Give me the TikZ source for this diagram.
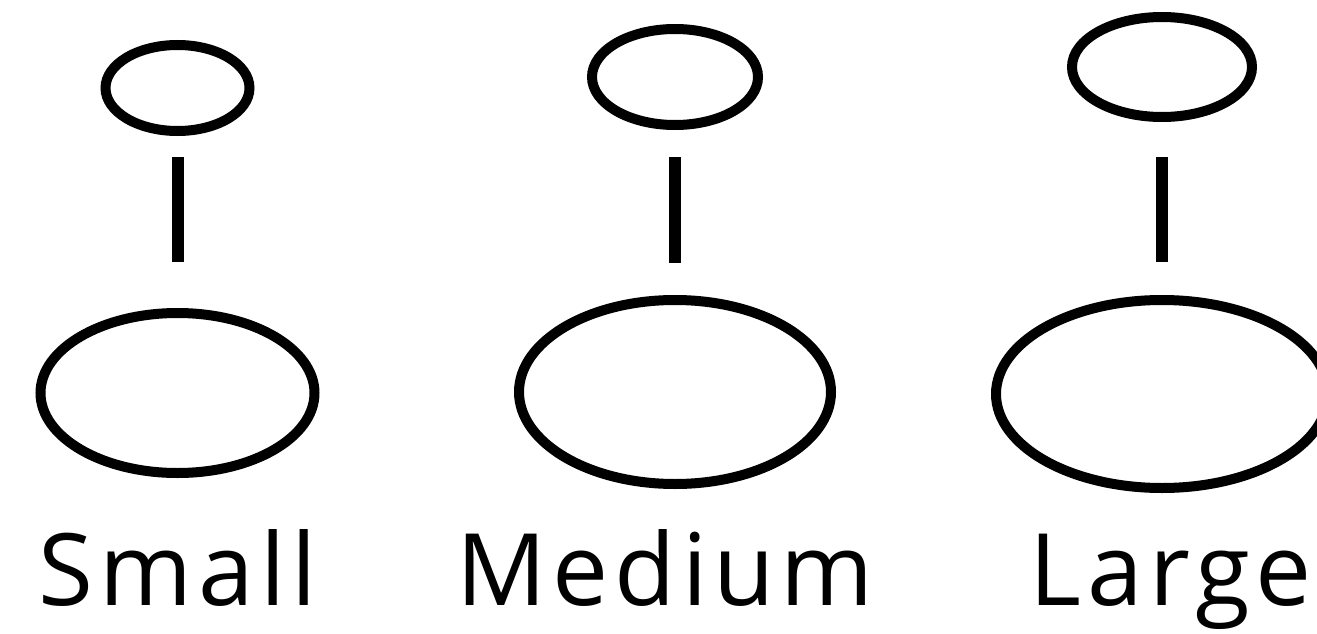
\documentclass[tikz,border=0pt]{standalone}
\usepackage{fontspec}
\setmainfont{Open Sans}
\newfontfamily\labelfont[LetterSpace=6]{Open Sans}
\usetikzlibrary{shapes.geometric}
\begin{document}
\begin{tikzpicture}[x=1pt,y=-1pt,
  oval/.style={draw=black, ellipse, line width=10pt, inner sep=0pt, outer sep=0pt},
  stem/.style={draw=black, line width=12pt},
  lbl/.style={anchor=base, inner sep=0pt, font=\labelfont\fontsize{100}{110}\selectfont}]
\useasboundingbox[fill=white] (0,0) rectangle (1317,634);
% Small
\node[oval, minimum width=144pt, minimum height=86pt] (st) at (177.5,88) {};
\node[oval, minimum width=274pt, minimum height=160pt] (sb) at (177.5,393) {};
\draw[stem, shorten <=26pt, shorten >=51pt] (st.south) -- (sb.north);
\node[lbl] (sl) at (178,605) {Small};
% Medium
\node[oval, minimum width=166pt, minimum height=96pt] (mt) at (675,77) {};
\node[oval, minimum width=312pt, minimum height=184pt] (mb) at (675,392) {};
\draw[stem, shorten <=32pt, shorten >=37pt] (mt.south) -- (mb.north);
\node[lbl] (ml) at (665,605) {Medium};
% Large
\node[oval, minimum width=180pt, minimum height=100pt] (lt) at (1162,67) {};
\node[oval, minimum width=332pt, minimum height=188pt] (lb) at (1162,394) {};
\draw[stem, shorten <=40pt, shorten >=38pt] (lt.south) -- (lb.north);
\node[lbl] (ll) at (1171,605) {Large};
\end{tikzpicture}
\end{document}
